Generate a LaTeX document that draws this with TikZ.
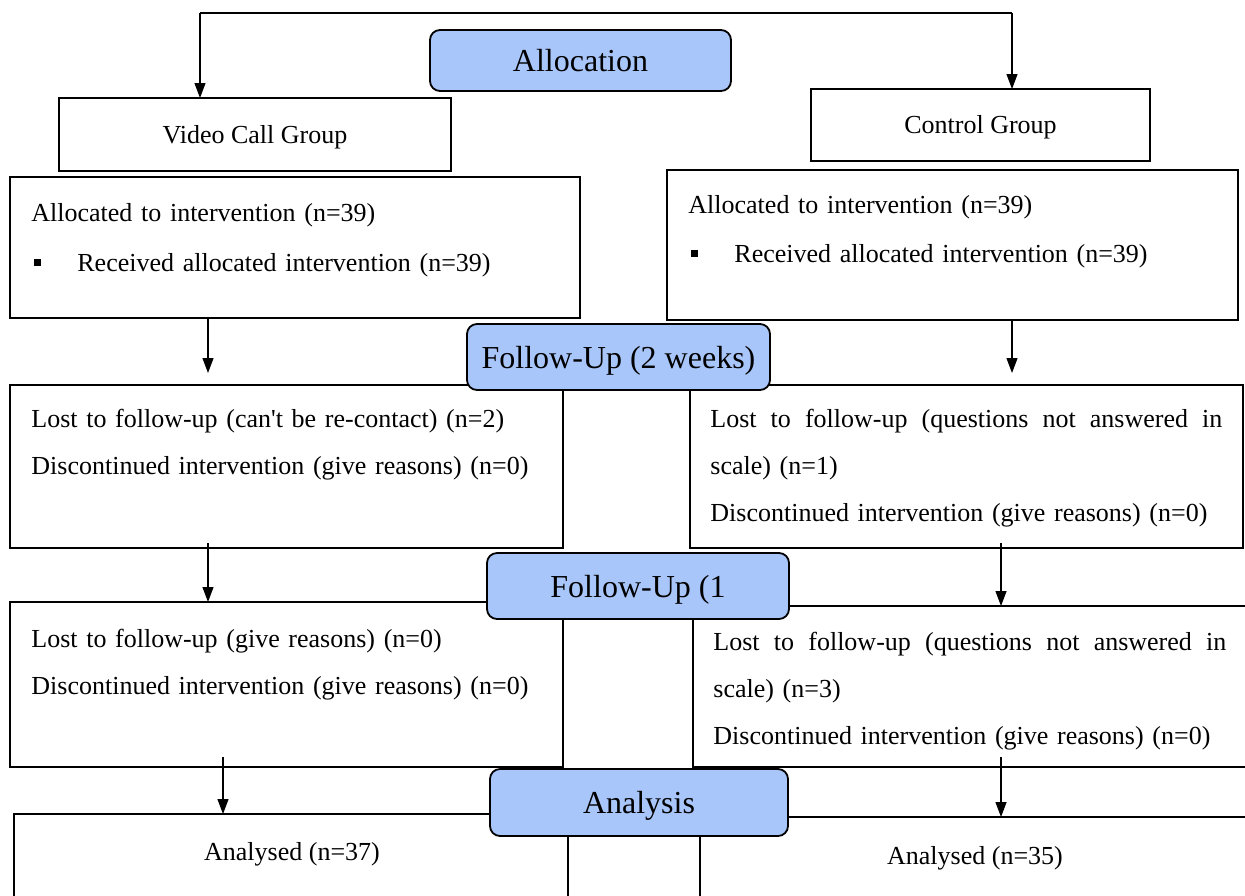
\documentclass[tikz,border=0pt]{standalone}
\usepackage{fontspec}
\setmainfont{Liberation Serif}
\usetikzlibrary{arrows.meta}
\definecolor{phaseblue}{RGB}{169,198,250}
\newcommand{\sqbullet}{\hspace*{1.5pt}\rule[2.5pt]{3.5pt}{3.5pt}\hspace{18pt}}
\newcommand{\spreadline}[2]{\leavevmode\hbox to #1{\spaceskip=\fontdimen2\font plus 1fill\relax #2}}
\tikzset{
    box/.style={
        rectangle,
        draw,
        anchor=north west,
        line width=0.9pt,
        inner sep=0pt,
        outer sep=0pt,
        text height=9pt,
        text depth=0.5pt,
        font=\fontsize{13}{16}\selectfont
    },
    phase/.style={
        rectangle,
        draw,
        fill=phaseblue,
        anchor=north west,
        rounded corners=5pt,
        line width=0.9pt,
        inner sep=0pt,
        outer sep=0pt,
        text height=11.5pt,
        text depth=0.5pt,
        font=\fontsize{16}{19}\selectfont
    },
    boxtext/.style={
        anchor=base west,
        inner sep=0pt,
        align=left,
        text width=#1,
        font=\fontsize{13}{23.5}\selectfont
    },
    boxtext/.default=270pt,
    arrow/.style={
        -{Triangle[length=7.5pt,width=5.5pt]},
        line width=0.6pt
    }
}

\begin{document}
\begin{tikzpicture}[x=0.5pt, y=-0.5pt]
    \useasboundingbox (0,0) rectangle (1245,895);

    % Boxes
    \node (vcg) [box, minimum width=196pt, minimum height=36.5pt] at (59,98) {Video Call Group};
    \node (cg) [box, minimum width=169.5pt, minimum height=36pt] at (811,89) {Control Group};
    \node (vcalloc) [box, minimum width=285pt, minimum height=70.5pt] at (10,177) {};
    \node (cgalloc) [box, minimum width=285.5pt, minimum height=75pt] at (667,170) {};
    \node (vcfu2) [box, minimum width=276.5pt, minimum height=81.5pt] at (10,385) {};
    \node (cgfu2) [box, minimum width=276.5pt, minimum height=81.5pt] at (690,385) {};
    \node (vcfu1) [box, minimum width=276.5pt, minimum height=82.5pt] at (10,602) {};
    \node (cgfu1) [box, minimum width=283.5pt, minimum height=80.5pt] at (693,606) {};
    \node (vcana) [box, minimum width=277pt, minimum height=53pt] at (14,814) {};
    \node (cgana) [box, minimum width=280pt, minimum height=51.5pt] at (700,817) {};

    % Stages
    \node (alloc) [phase, minimum width=150.5pt, minimum height=30.5pt] at (430,30) {Allocation};
    \node (fu2) [phase, minimum width=151.5pt, minimum height=33pt] at (467,324) {Follow-Up (2 weeks)};
    \node (fu1) [phase, minimum width=151pt, minimum height=33pt] at (487,553) {Follow-Up (1};
    \node (ana) [phase, minimum width=149pt, minimum height=33.5pt] at (490,769) {Analysis};

    % Box texts
    \node (vcallocnote) [boxtext] at (31,221) {Allocated to intervention (n=39)\\[1.5pt]
        \sqbullet Received allocated intervention (n=39)};
    \node (cgallocnote) [boxtext] at (688,213) {Allocated to intervention (n=39)\\[1pt]
        \sqbullet Received allocated intervention (n=39)};
    \node (vcfu2note) [boxtext] at (31,427) {Lost to follow-up (can\textquotesingle t be re-contact) (n=2)\\
        Discontinued intervention (give reasons) (n=0)};
    \node (cgfu2note) [boxtext=262pt] at (710,427) {\spreadline{256pt}{Lost to follow-up (questions not answered in}\\
        scale) (n=1)\\
        Discontinued intervention (give reasons) (n=0)};
    \node (vcfu1note) [boxtext] at (31,647) {Lost to follow-up (give reasons) (n=0)\\
        Discontinued intervention (give reasons) (n=0)};
    \node (cgfu1note) [boxtext=262pt] at (713,650) {\spreadline{256.5pt}{Lost to follow-up (questions not answered in}\\
        scale) (n=3)\\
        Discontinued intervention (give reasons) (n=0)};
    \node (vcananote) [font=\fontsize{13}{16}\selectfont, inner sep=0pt] at (292,854) {Analysed (n=37)};
    \node (cgananote) [font=\fontsize{13}{16}\selectfont, inner sep=0pt] at (975,858) {Analysed (n=35)};

    % Arrows
    \coordinate (splitl) at (200,13);
    \coordinate (splitr) at (1012,13);
    \coordinate (leftx1) at (208,0);
    \coordinate (leftx2) at (223,0);
    \coordinate (rightx1) at (1012,0);
    \coordinate (rightx2) at (1001,0);
    \draw[line width=0.7pt] (splitl) -- (splitr);
    \draw[arrow] (splitl) -- (splitl |- vcg.north);
    \draw[arrow] (splitr) -- (splitr |- cg.north);
    \draw[arrow, shorten >=6pt] (vcalloc.south -| leftx1) -- (vcfu2.north -| leftx1);
    \draw[arrow, shorten >=6pt] (cgalloc.south -| rightx1) -- (cgfu2.north -| rightx1);
    \draw[arrow, shorten <=-2.5pt] (vcfu2.south -| leftx1) -- (vcfu1.north -| leftx1);
    \draw[arrow, shorten <=-2.5pt] (cgfu2.south -| rightx2) -- (cgfu1.north -| rightx2);
    \draw[arrow, shorten <=-5pt] (vcfu1.south -| leftx2) -- (vcana.north -| leftx2);
    \draw[arrow, shorten <=-5pt] (cgfu1.south -| rightx2) -- (cgana.north -| rightx2);
\end{tikzpicture}
\end{document}
